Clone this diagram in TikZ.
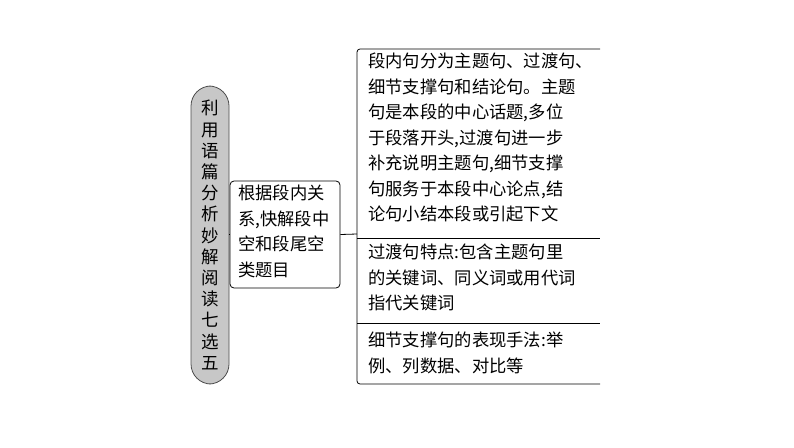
\documentclass[tikz,border=0pt]{standalone}
\usepackage{fontspec}
\setmainfont{Noto Sans CJK SC}
\usetikzlibrary{positioning}

\begin{document}
\begin{tikzpicture}[x=1pt,y=-1pt,
    txt/.style={anchor=north west,align=left,inner sep=0pt,font=\fontsize{17.3}{25.5}\selectfont},
    topic/.style={draw=black!70,fill=black!22,rounded corners=20pt,line width=0.8pt,
        minimum width=38pt,minimum height=298pt,inner sep=0pt,align=center,
        font=\fontsize{17.5}{21.2}\selectfont},
    midbox/.style={draw,rounded corners=4pt,line width=0.8pt,minimum width=110pt,
        minimum height=107pt,inner sep=0pt}]
  \useasboundingbox (0,0) rectangle (794,447);

  % topic column and middle box
  \node[topic] (topic) at (210,235) {利\\用\\语\\篇\\分\\析\\妙\\解\\阅\\读\\七\\选\\五};
  \node[midbox] (mid) at (285,234.5) {};
  \node[txt] (midtxt) at (238,185) {根据段内关\\系,快解段中\\空和段尾空\\类题目};

  % bracket on the right
  \coordinate (btop) at (357,49);
  \coordinate (bbot) at (357,384);
  \coordinate (bjoin) at (357,234);
  \draw[line width=0.8pt,rounded corners=3pt] (600,49) -- (btop) -- (bbot) -- (600,384);
  \draw[line width=0.8pt] (357,238) -- (600,238);
  \draw[line width=0.8pt] (357,323) -- (600,323);
  \draw[line width=0.8pt] (topic.east |- mid.west) -- (mid.west);
  \draw[line width=0.8pt] (mid.east) -- (bjoin);

  % texts
  \node[txt] (t1) at (368,53) {段内句分为主题句、过渡句、\\细节支撑句和结论句。主题\\句是本段的中心话题,多位\\于段落开头,过渡句进一步\\补充说明主题句,细节支撑\\句服务于本段中心论点,结\\论句小结本段或引起下文};
  \node[txt] (t2) at (368,244) {过渡句特点:包含主题句里\\的关键词、同义词或用代词\\指代关键词};
  \node[txt] (t3) at (368,332) {细节支撑句的表现手法:举\\例、列数据、对比等};
\end{tikzpicture}
\end{document}
